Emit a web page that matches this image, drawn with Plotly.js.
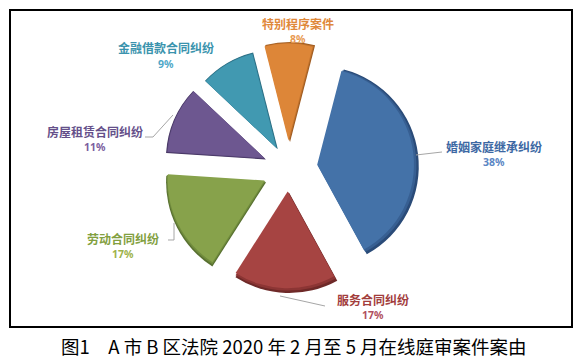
<!DOCTYPE html>
<html>
<head>
<meta charset="utf-8">
<script src="https://cdn.plot.ly/plotly-3.0.1.min.js"></script>
<style>html,body{margin:0;padding:0;background:#fff;}#chart{width:586px;height:359px;}</style>
</head>
<body>
<div id="chart"></div>
<script>
// ---- data ----
const categories = ['婚姻家庭继承纠纷', '服务合同纠纷', '劳动合同纠纷', '房屋租赁合同纠纷', '金融借款合同纠纷', '特别程序案件'];
const shares = [38, 17, 17, 11, 9, 8];
const caption = '图1\u3000A 市 B 区法院 2020 年 2 月至 5 月在线庭审案件案由';

// ---- styles ----
const W = 586, H = 359;
const baseColors = ['#4472A8', '#A64442', '#87A24B', '#6D5790', '#4199B1', '#DD8638'];
const midColors = ['#375F92', '#8C3534', '#718C3D', '#59467A', '#347F97', '#C0722C'];
const edgeColors = ['#2A4B78', '#6E2928', '#587030', '#443460', '#296A7E', '#9F5B20'];
const labelColors = ['#3C68A3', '#A23D3C', '#82A040', '#65508A', '#3A93AD', '#DF883A'];
const pctColors = ['#5A86C4', '#B0505E', '#9DB24A', '#7B5EA0', '#4FA8C8', '#E89A52'];
const pullPx = [29, 23, 26.8, 26.3, 24, 28];
const labelPos = [[494, 146], [373, 299], [123, 238], [95, 131], [166, 48], [298, 23]];
const pctGap = 16;
const center = [290, 170];
const R = 100;

function px(x) { return x / W; }
function py(y) { return 1 - y / H; }
function pieLayer(r, dx, dy, colors) {
  const pulls = pullPx.map(p => p / r);
  const maxPull = Math.max(...pulls);
  const D = 2 * r * (1 + maxPull);
  const cx = center[0] + dx, cy = center[1] + dy;
  return {
    type: 'pie',
    labels: categories,
    values: shares,
    sort: false,
    direction: 'clockwise',
    rotation: 14.5,
    pull: pulls,
    textinfo: 'none',
    hoverinfo: 'label+percent',
    showlegend: false,
    marker: { colors: colors, line: { width: 0 } },
    domain: { x: [px(cx - D / 2), px(cx + D / 2)], y: [py(cy + D / 2), py(cy - D / 2)] }
  };
}

const traces = [
  pieLayer(R, 0, 0, edgeColors),
  pieLayer(R - 1.6, -0.8, -0.8, midColors),
  pieLayer(R - 3.2, -1.6, -1.6, baseColors)
];

const total = shares.reduce((a, b) => a + b, 0);
const annotations = [];
categories.forEach((c, i) => {
  const [x, y] = labelPos[i];
  annotations.push({
    x: px(x), y: py(y), xref: 'paper', yref: 'paper', xanchor: 'center', yanchor: 'middle',
    text: '<b>' + c + '</b>', showarrow: false,
    font: { family: 'Noto Sans CJK SC, sans-serif', size: 12, color: labelColors[i] }
  });
  annotations.push({
    x: px(x), y: py(y + pctGap), xref: 'paper', yref: 'paper', xanchor: 'center', yanchor: 'middle',
    text: '<b>' + Math.round(shares[i] / total * 100) + '%</b>', showarrow: false,
    font: { family: 'Noto Sans, sans-serif', size: 10.5, color: pctColors[i] }
  });
});
annotations.push({
  x: px(294), y: py(346), xref: 'paper', yref: 'paper', xanchor: 'center', yanchor: 'middle',
  text: caption, showarrow: false,
  font: { family: 'Noto Sans CJK SC, sans-serif', size: 18.5, color: '#000' }
});

function path(pts) {
  return pts.map((p, i) => (i ? 'L' : 'M') + px(p[0]).toFixed(5) + ',' + py(p[1]).toFixed(5)).join(' ');
}
const leaderStyle = { color: '#A6A6A6', width: 1 };
const shapes = [
  { type: 'rect', xref: 'paper', yref: 'paper', x0: px(10), x1: px(572), y0: py(327), y1: py(10), line: { color: '#000', width: 2 } },
  { type: 'path', xref: 'paper', yref: 'paper', path: path([[416, 155], [442, 152]]), line: leaderStyle },
  { type: 'path', xref: 'paper', yref: 'paper', path: path([[280, 296], [325, 306]]), line: leaderStyle },
  { type: 'path', xref: 'paper', yref: 'paper', path: path([[168, 240], [174, 240], [174, 223]]), line: leaderStyle },
  { type: 'path', xref: 'paper', yref: 'paper', path: path([[145, 137], [153, 137], [173, 115]]), line: leaderStyle }
];

const layout = {
  width: W, height: H,
  margin: { l: 0, r: 0, t: 0, b: 0 },
  paper_bgcolor: '#fff',
  showlegend: false,
  annotations: annotations,
  shapes: shapes
};

Plotly.newPlot('chart', traces, layout, { displayModeBar: false, staticPlot: true });
</script>
</body>
</html>
